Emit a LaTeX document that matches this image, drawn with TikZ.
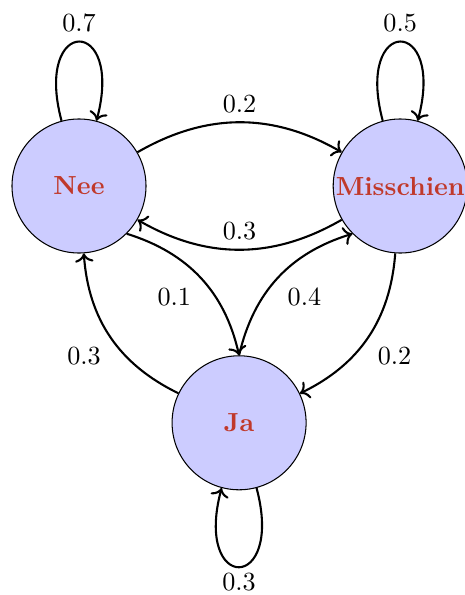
\documentclass[tikz,border=0pt]{standalone}
\usepackage{tikz}
\usepackage{xcolor}
\usetikzlibrary{arrows.meta,positioning}
\definecolor{mkred}{RGB}{192,57,43}
\definecolor{mkfill}{RGB}{204,204,255}
\tikzset{
  mkstate/.style={draw=black, circle, fill=mkfill, minimum size=1.8cm, inner sep=0pt, text=mkred, font=\bfseries},
  mkarr/.style={->, thick}
}
\begin{document}
\begin{tikzpicture}[node distance=2.5cm]
  \useasboundingbox (-1.061,-5.493) rectangle (5.184,2.498);
  \node[mkstate] (nee) {Nee};
  \node[mkstate, right=of nee] (mis) {Misschien};
  \node[mkstate] (ja) at (2.15,-3.18) {Ja};
  \draw[mkarr] (nee) to[loop above] node[above] {0.7} (nee);
  \draw[mkarr] (mis) to[loop above] node[above] {0.5} (mis);
  \draw[mkarr] (ja) to[loop below] node[below, inner sep=1.8pt] {0.3} (ja);
  \draw[mkarr] (nee) to[bend left] node[above] {0.2} (mis);
  \draw[mkarr] (mis) to[bend left] node[above] {0.3} (nee);
  \draw[mkarr] (nee.south east) to[bend left] node[below left] {0.1} (ja.north);
  \draw[mkarr] (ja.north) to[bend left] node[below right] {0.4} (mis.south west);
  \draw[mkarr] (mis) to[bend left] node[below right] {0.2} (ja);
  \draw[mkarr] (ja) to[bend left] node[below left] {0.3} (nee);
\end{tikzpicture}
\end{document}
